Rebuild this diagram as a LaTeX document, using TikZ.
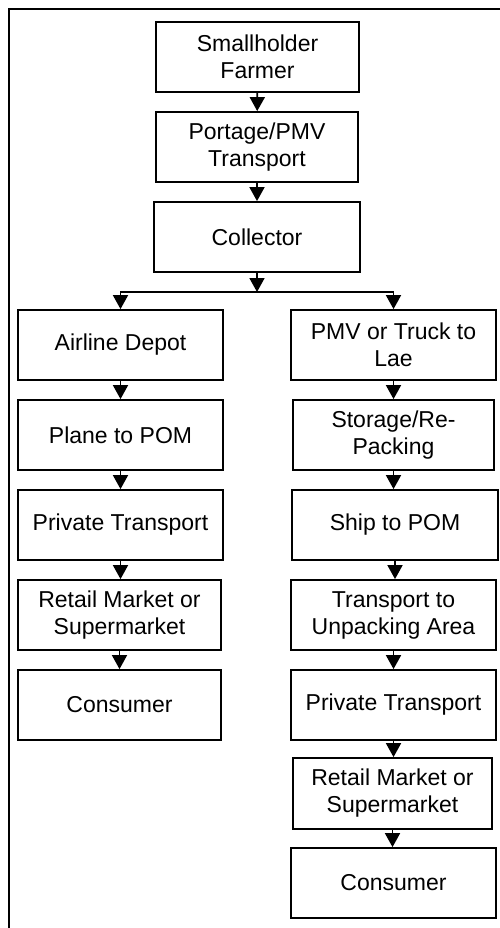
\documentclass[tikz,border=0pt]{standalone}
\usepackage{fontspec}
\setmainfont{Liberation Sans}
\usetikzlibrary{arrows.meta}

\begin{document}
\begin{tikzpicture}[x=1pt, y=-1pt, >={Triangle[width=15pt,length=14pt]}, line width=1.8pt,
	box/.style={draw, minimum width=205pt, minimum height=70pt, inner sep=0pt, align=center, font=\fontsize{23}{27}\selectfont},
	flow/.style={->}]
				\useasboundingbox (0,0) rectangle (500,928);
				% 1. 外框
				\draw[line width=2.2pt] (9,928) -- (9,9) -- (500,9);
				
				% 2. 上部
				\node[box, minimum width=203pt] (farmer) at (257.5,57) {Smallholder\\Farmer};
				\node[box, minimum width=202pt] (portage) at (257,147) {Portage/PMV\\Transport};
				\node[box, minimum width=206pt] (collector) at (257,237) {Collector};
				\coordinate (split) at (257,292);
				
				% 3. 左列
				\node[box] (depot) at (120.5,345) {Airline Depot};
				\node[box] (plane) at (120.5,435) {Plane to POM};
				\node[box] (ltrans) at (120.5,525) {Private Transport};
				\node[box, minimum width=203pt] (lretail) at (119.5,615) {Retail Market or\\Supermarket};
				\node[box, minimum width=203pt] (lcons) at (119.5,705) {Consumer};
				
				% 4. 右列
				\node[box] (truck) at (393.5,345) {PMV or Truck to\\Lae};
				\node[box, minimum width=201pt] (storage) at (393.5,435) {Storage/Re-\\Packing};
				\node[box, minimum width=206pt] (ship) at (395,525) {Ship to POM};
				\node[box] (unpack) at (393.5,615) {Transport to\\Unpacking Area};
				\node[box] (rtrans) at (393.5,705) {Private Transport};
				\node[box, minimum width=199pt, minimum height=71pt] (rretail) at (392.5,793.5) {Retail Market or\\Supermarket};
				\node[box] (rcons) at (393.5,883) {Consumer};
				
				% 5. 箭头
				\draw[flow] (farmer) -- (portage);
				\draw[flow] (portage) -- (collector);
				\draw[flow] (collector) -- (split);
				\draw[flow] (split) -| (depot);
				\draw[flow] (split) -| (truck);
				\foreach \a/\b in {depot/plane, plane/ltrans, ltrans/lretail, lretail/lcons,
					truck/storage, storage/ship, ship/unpack, unpack/rtrans, rtrans/rretail, rretail/rcons}
					\draw[flow] (\a.south) -- (\b.north -| \a.south);
			\end{tikzpicture}
\end{document}
